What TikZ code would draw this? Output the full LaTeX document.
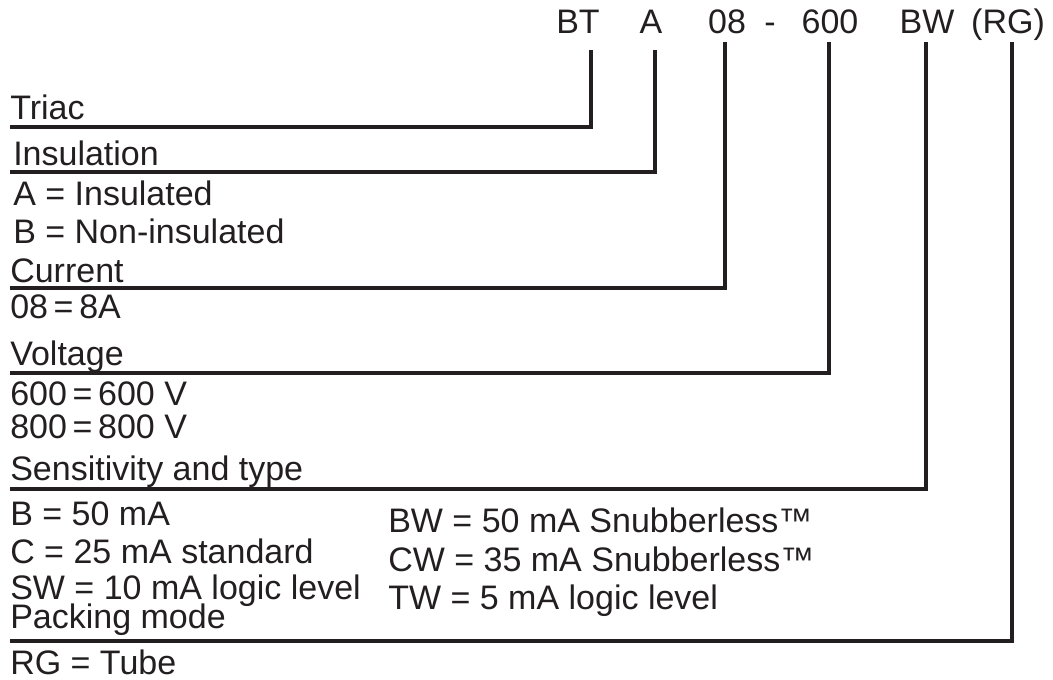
\documentclass[tikz,border=0pt]{standalone}
\usepackage{fontspec}
\setmainfont{Liberation Sans}
\usetikzlibrary{positioning}
\definecolor{ink}{HTML}{231F20}
\tikzset{
	lbl/.style={anchor=base west, inner sep=0pt, font=\fontsize{25.5}{30}\selectfont, text=ink},
	code/.style={anchor=base, inner sep=0pt, font=\fontsize{25.5}{30}\selectfont, text=ink},
	lead/.style={draw=ink, line width=3pt},
}
\begin{document}
\begin{tikzpicture}[x=0.75pt, y=-0.75pt]
				\useasboundingbox (0,0) rectangle (1053,679);
				% part number
				\node[code] (BT) at (578,33) {BT};
				\node[code] (A) at (651,33) {A};
				\node[code] (cur) at (727,33) {08};
				\node[code] (dash) at (770,33) {-};
				\node[code] (volt) at (830,33) {600};
				\node[code] (sens) at (927,33) {BW};
				\node[code] (pack) at (1008,33) {(RG)};
				
				% tops of the leads
				\coordinate (tBT) at (591,50);
				\coordinate (tA) at (655,50);
				\coordinate (tcur) at (724.7,42);
				\coordinate (tvolt) at (828.7,42);
				\coordinate (tsens) at (925.5,42);
				\coordinate (tpack) at (1011.5,42);
				
				% left ends of the leads
				\coordinate (lBT) at (10,127);
				\coordinate (lA) at (10,172);
				\coordinate (lcur) at (10,288);
				\coordinate (lvolt) at (10,373);
				\coordinate (lsens) at (10,489);
				\coordinate (lpack) at (10,641);
				
				\draw[lead] (lBT) -| (tBT);
				\draw[lead] (lA) -| (tA);
				\draw[lead] (lcur) -| (tcur);
				\draw[lead] (lvolt) -| (tvolt);
				\draw[lead] (lsens) -| (tsens);
				\draw[lead] (lpack) -| (tpack);
				
				% fields
				\node[lbl] (triac) at (10,119) {Triac};
				\node[lbl] (ins) at (13,165) {Insulation};
				\node[lbl] (insA) at (13,205) {A = Insulated};
				\node[lbl] (insB) at (13,243) {B = Non-insulated};
				\node[lbl] (curr) at (10,282) {Current};
				\node[lbl] (cur8) at (10,318) {08\,=\,8A};
				\node[lbl] (vlt) at (10,365) {Voltage};
				\node[lbl] (v600) at (10,405) {600\,=\,600 V};
				\node[lbl] (v800) at (10,438) {800\,=\,800 V};
				\node[lbl] (sns) at (10,480) {Sensitivity and type};
				\node[lbl] (sB) at (10,525) {B = 50 mA};
				\node[lbl] (sC) at (10,563) {C = 25 mA standard};
				\node[lbl] (sSW) at (10,599) {SW = 10 mA logic level};
				\node[lbl] (sBW) at (388,532) {BW = 50 mA Snubberless™};
				\node[lbl] (sCW) at (388,571) {CW = 35 mA Snubberless™};
				\node[lbl] (sTW) at (388,609) {TW = 5 mA logic level};
				\node[lbl] (pck) at (10,628) {Packing mode};
				\node[lbl] (pRG) at (10,674) {RG = Tube};
			\end{tikzpicture}
\end{document}
